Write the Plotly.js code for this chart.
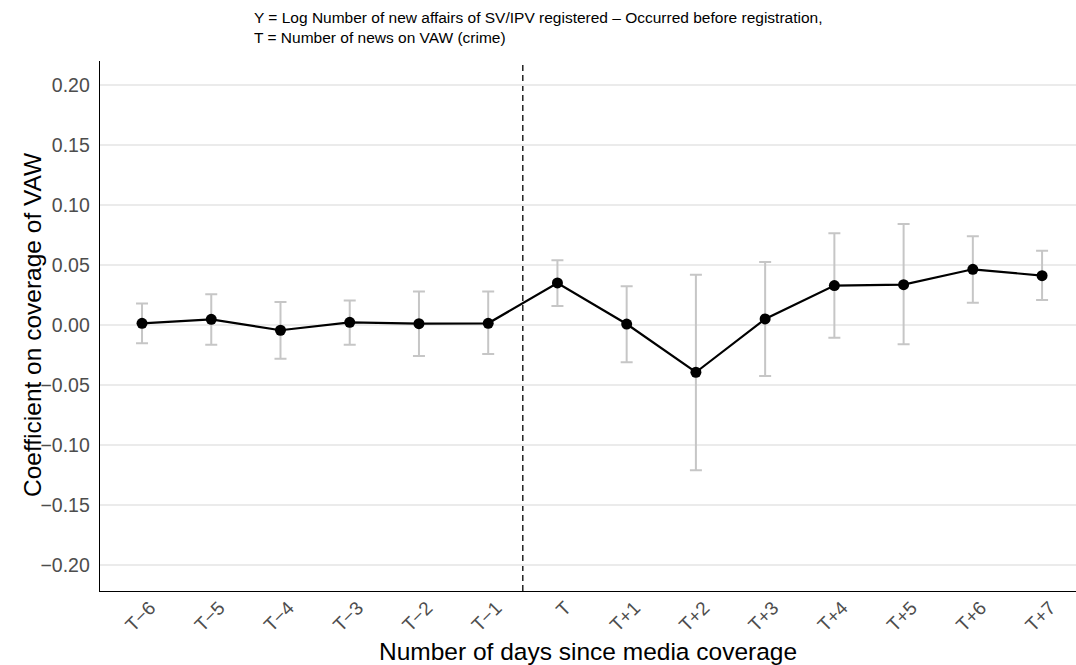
<!DOCTYPE html>
<html>
<head>
<meta charset="utf-8">
<script src="https://cdn.plot.ly/plotly-3.0.1.min.js"></script>
<style>html,body{margin:0;padding:0;background:#fff;}#chart{width:1076px;height:665px;}</style>
</head>
<body>
<div id="chart"></div>
<script>
const categories = ["T\u22126","T\u22125","T\u22124","T\u22123","T\u22122","T\u22121","T","T+1","T+2","T+3","T+4","T+5","T+6","T+7"];
const coef  = [0.0014, 0.0047, -0.0044, 0.0022, 0.0011, 0.0014, 0.0350, 0.0008, -0.0394, 0.0050, 0.0328, 0.0336, 0.0464, 0.0411];
const upper = [0.0180, 0.0256, 0.0192, 0.0203, 0.0278, 0.0278, 0.0539, 0.0322, 0.0419, 0.0525, 0.0764, 0.0842, 0.0739, 0.0619];
const lower = [-0.0153, -0.0164, -0.0281, -0.0164, -0.0258, -0.0242, 0.0158, -0.0311, -0.1211, -0.0425, -0.0106, -0.0161, 0.0186, 0.0208];
const yTicks = [-0.20, -0.15, -0.10, -0.05, 0.00, 0.05, 0.10, 0.15, 0.20];
const yTickText = ["\u22120.20","\u22120.15","\u22120.10","\u22120.05","0.00","0.05","0.10","0.15","0.20"];
const titleLines = ["Y = Log Number of new affairs of SV/IPV registered \u2013 Occurred before registration,", "T = Number of news on VAW (crime)"];
const xTitle = "Number of days since media coverage";
const yTitle = "Coefficient on coverage of VAW";

const errPlus = coef.map((v, i) => upper[i] - v);
const errMinus = coef.map((v, i) => v - lower[i]);

// x range of the category axis (ggplot-like expansion)
const xRange = [-0.607, 13.49];
const breakPos = 5.5; // between T-1 (index 5) and T (index 6)
const breakPaper = (breakPos - xRange[0]) / (xRange[1] - xRange[0]);

const traces = [
  {
    x: categories, y: coef, type: "scatter", mode: "markers",
    marker: {size: 0.1, color: "rgba(0,0,0,0)"},
    error_y: {type: "data", symmetric: false, array: errPlus, arrayminus: errMinus,
              color: "#c6c6c6", thickness: 2, width: 6},
    hoverinfo: "skip", showlegend: false
  },
  {
    x: categories, y: coef, type: "scatter", mode: "lines+markers",
    line: {color: "#000000", width: 2.2},
    marker: {color: "#000000", size: 11},
    showlegend: false
  }
];

const layout = {
  width: 1076, height: 665,
  paper_bgcolor: "#ffffff", plot_bgcolor: "#ffffff",
  margin: {l: 100, r: 0, t: 61, b: 74},
  font: {family: "Liberation Sans, Arial, sans-serif", color: "#000"},
  xaxis: {
    type: "category", range: xRange,
    showgrid: false, zeroline: false,
    showline: true, linecolor: "#000", linewidth: 1.3,
    ticks: "", tickangle: -45, ticklabelstandoff: -3, ticklabelshift: 8,
    tickfont: {size: 19, color: "#4d4d4d"}
  },
  yaxis: {
    range: [-0.2217, 0.22],
    tickvals: yTicks, ticktext: yTickText,
    showgrid: true, gridcolor: "#ebebeb", gridwidth: 1.1,
    zeroline: false,
    showline: true, linecolor: "#000", linewidth: 1.3,
    ticks: "", ticklabelstandoff: 5,
    tickfont: {size: 19.5, color: "#4d4d4d"}
  },
  annotations: [
    {text: titleLines.join("<br>"), xref: "paper", yref: "paper",
     x: (252 - 100) / 976, y: (591 - 7) / 530, xanchor: "left", yanchor: "top",
     align: "left", showarrow: false, font: {size: 15.5, color: "#000"}},
    {text: xTitle, xref: "paper", yref: "paper", x: 0.5, y: (591 - 667) / 530,
     xanchor: "center", yanchor: "bottom", showarrow: false,
     font: {size: 24.5, color: "#000"}},
    {text: yTitle, xref: "paper", yref: "paper", x: (32 - 100) / 976, y: (591 - 325) / 530,
     xanchor: "center", yanchor: "middle", textangle: -90, showarrow: false,
     font: {size: 24.5, color: "#000"}}
  ],
  shapes: [
    {type: "line", xref: "paper", yref: "y", x0: 0, x1: 1, y0: 0, y1: 0,
     line: {color: "#f07070", width: 1.3}, layer: "below"},
    {type: "line", xref: "paper", yref: "paper", x0: breakPaper, x1: breakPaper, y0: 0, y1: 1,
     line: {color: "#000", width: 1.3, dash: "6px,4px"}, layer: "below"}
  ]
};

Plotly.newPlot("chart", traces, layout, {displayModeBar: false, staticPlot: true});
</script>
</body>
</html>
